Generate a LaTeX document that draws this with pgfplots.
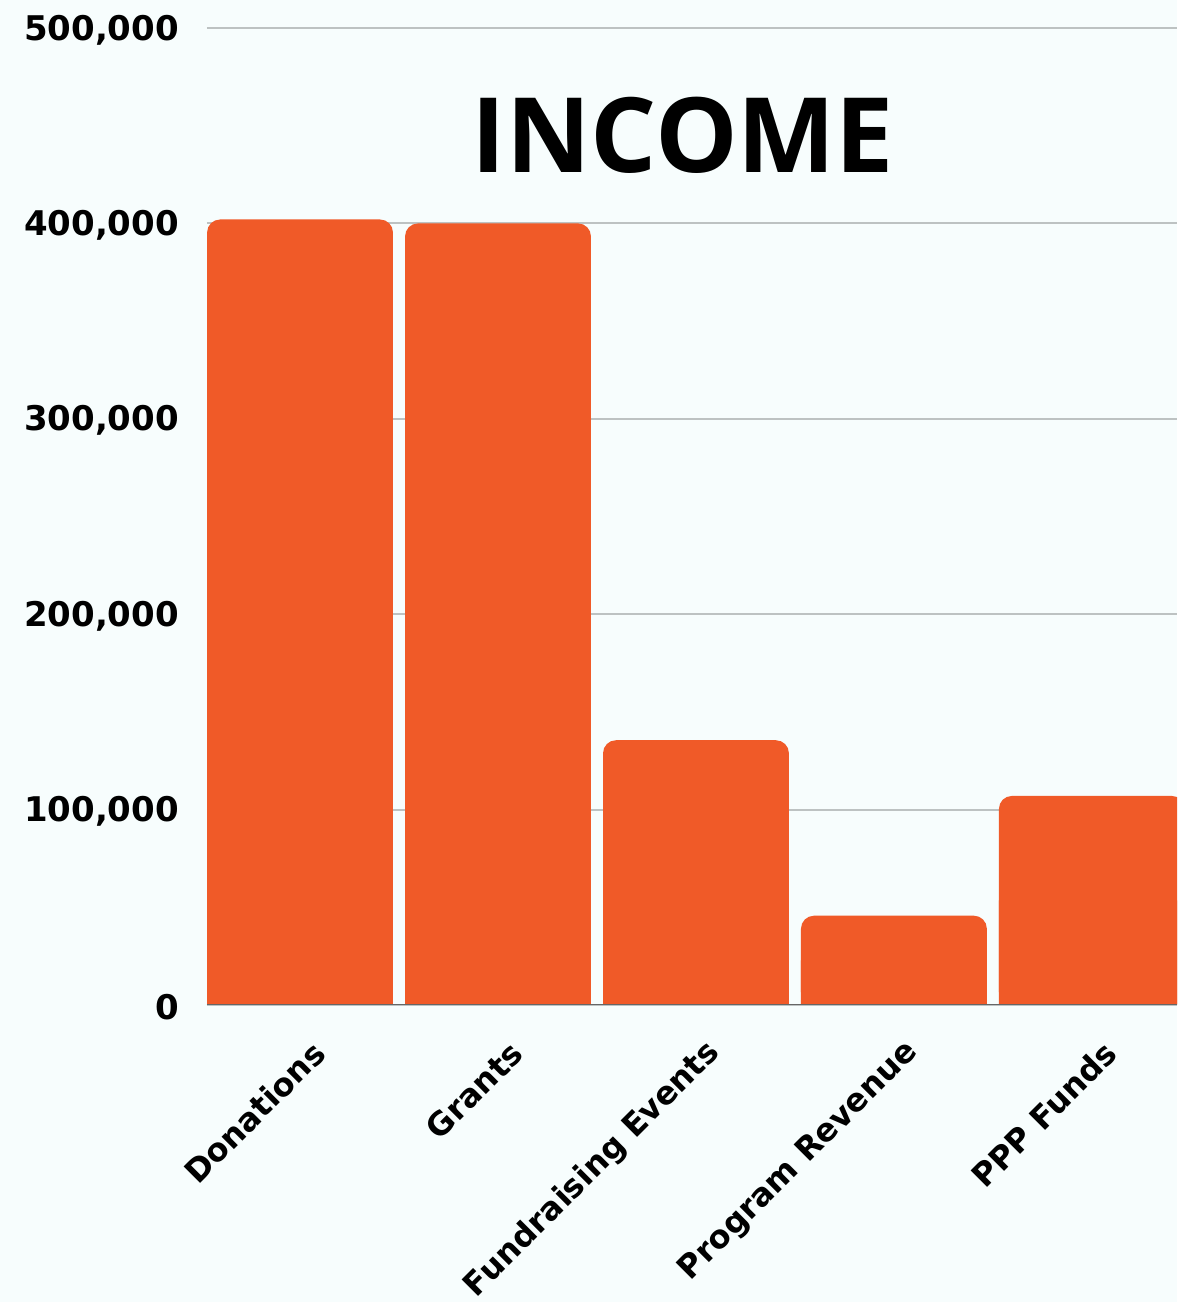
\documentclass[border=0pt]{standalone}
\usepackage{fontspec}
\usepackage{pgfplots}
\usepackage{pgfplotstable}
\pgfplotsset{compat=1.18}
\usetikzlibrary{backgrounds}

\newfontfamily\tickfont{DejaVu Sans}
\newfontfamily\titlefont{Open Sans}

\definecolor{barc}{HTML}{F05A28}
\definecolor{bgc}{HTML}{F7FDFD}
\definecolor{gridc}{HTML}{BDC2C2}
\definecolor{basec}{HTML}{666666}

% Income by source
\pgfplotstableread{
x v
0 402000
1 400000
2 135500
3 45700
4 107000
}\income

\begin{document}
\begin{tikzpicture}
\begin{axis}[
  name=ax,
  scale only axis,
  width=485pt, height=488.5pt,
  xmin=-0.47, xmax=4.43,
  ymin=0, ymax=500000,
  scaled y ticks=false,
  axis line style={draw=none},
  major tick length=0pt,
  ymajorgrids,
  grid style={gridc, line width=1pt},
  ytick={0,100000,200000,300000,400000,500000},
  yticklabels={0,{100,000},{200,000},{300,000},{400,000},{500,000}},
  yticklabel style={font=\tickfont\bfseries\fontsize{17}{17}\selectfont, anchor=east, xshift=-10.5pt, yshift=-1pt},
  xtick={0,1,2,3,4},
  xticklabels={Donations,Grants,Fundraising Events,Program Revenue,PPP Funds},
  xticklabel style={font=\tickfont\bfseries\fontsize{16}{16}\selectfont, rotate=45, anchor=east, xshift=-4.8pt, yshift=-21.8pt},
  clip=true,
]
\addplot[ybar, bar width=0.939, bar shift=0pt, fill=barc, draw=none, rounded corners=6.5pt]
  table[x=x, y=v] {\income};
% square lower part so only the top corners are rounded
\addplot[ybar, bar width=0.939, bar shift=0pt, fill=barc, draw=none, forget plot]
  table[x=x, y expr=\thisrow{v}/2] {\income};
\draw[basec, line width=1pt] (rel axis cs:0,0) -- (rel axis cs:1,0);
\node[font=\titlefont\bfseries\fontsize{52}{52}\selectfont, anchor=base, inner sep=0pt]
  at (axis cs:1.935,426100) {INCOME};
\end{axis}
\pgfresetboundingbox
\path[use as bounding box] ([xshift=-103.5pt,yshift=-148.5pt]ax.south west) rectangle ([yshift=14pt]ax.north east);
\begin{pgfonlayer}{background}
\fill[bgc] ([xshift=-103.5pt,yshift=-148.5pt]ax.south west) rectangle ([yshift=14pt]ax.north east);
\end{pgfonlayer}
\end{tikzpicture}
\end{document}
